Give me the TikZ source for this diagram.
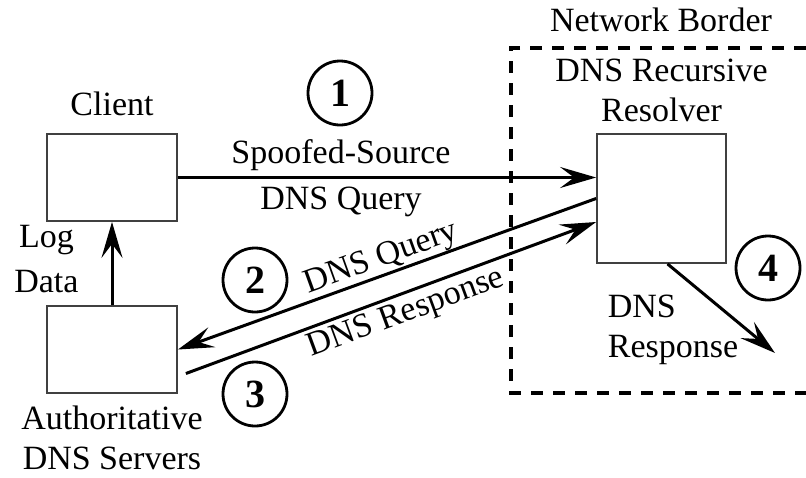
\documentclass[tikz,border=0pt]{standalone}
\usepackage{fontspec}
\setmainfont{Liberation Serif}
\usetikzlibrary{positioning,arrows.meta}
\begin{document}
\begin{tikzpicture}[x=0.5pt,y=-0.5pt,
  box/.style={draw=black!75,line width=0.9pt,minimum width=65pt,minimum height=43.5pt,inner sep=0pt},
  lbl/.style={inner sep=0pt,font=\fontsize{17}{20}\selectfont,align=center},
  num/.style={circle,draw,line width=1.4pt,minimum size=32pt,inner sep=0pt,font=\fontsize{20}{20}\selectfont\bfseries},
  flow/.style={line width=1.5pt,-{Stealth[length=18pt,width=10.5pt,inset=7pt]}},
  flowback/.style={line width=1.5pt,{Stealth[length=18pt,width=10.5pt,inset=7pt]}-}]
  \useasboundingbox (0,0) rectangle (806,477);
  \draw[line width=1.6pt,dash pattern=on 6pt off 5pt] (806,48) -- (511,48) -- (511,393) -- (806,393);
  \node[lbl,anchor=base] (border) at (661,31) {Network Border};
  \node[box] (client) at (112,177.5) {};
  \node[box] (auth) at (112,349.5) {};
  \node[box,minimum width=64.5pt,minimum height=64.5pt] (resolver) at (661.5,198.5) {};
  \node[lbl,above=8.5pt of client] (clientname) {Client};
  \node[lbl,above=5.5pt of resolver] (resolvername) {DNS Recursive\\Resolver};
  \node[lbl,below=6pt of auth] (authname) {Authoritative\\DNS Servers};
  \node[num] (one) at (340,93) {1};
  \node[num] (two) at (255,280) {2};
  \node[num] (three) at (255,394) {3};
  \node[num] (four) at (768,268) {4};
  \draw[flow] (client.east) -- node[lbl,above=2.5pt,pos=0.39] {Spoofed-Source}
    node[lbl,below=4pt,pos=0.39] {DNS Query} (client.east -| resolver.west);
  \draw[flowback] (auth.east) -- node[lbl,sloped,above=0pt] {DNS Query} (resolver.west);
  \draw[flow] ([xshift=4pt,yshift=-12pt]auth.east) -- node[lbl,sloped,below=2pt,pos=0.52] {DNS Response}
    ([yshift=-11.75pt]resolver.west);
  \draw[flow] (auth.north) -- node[lbl,left=16pt,pos=0.55] {Log\\[2.5pt]Data} (client.south);
  \coordinate (exit) at (775,353);
  \draw[flow] ([xshift=3pt]resolver.south) -- (exit);
  \node[lbl,align=left] (resp) at (673,330) {DNS\\Response};
\end{tikzpicture}
\end{document}
